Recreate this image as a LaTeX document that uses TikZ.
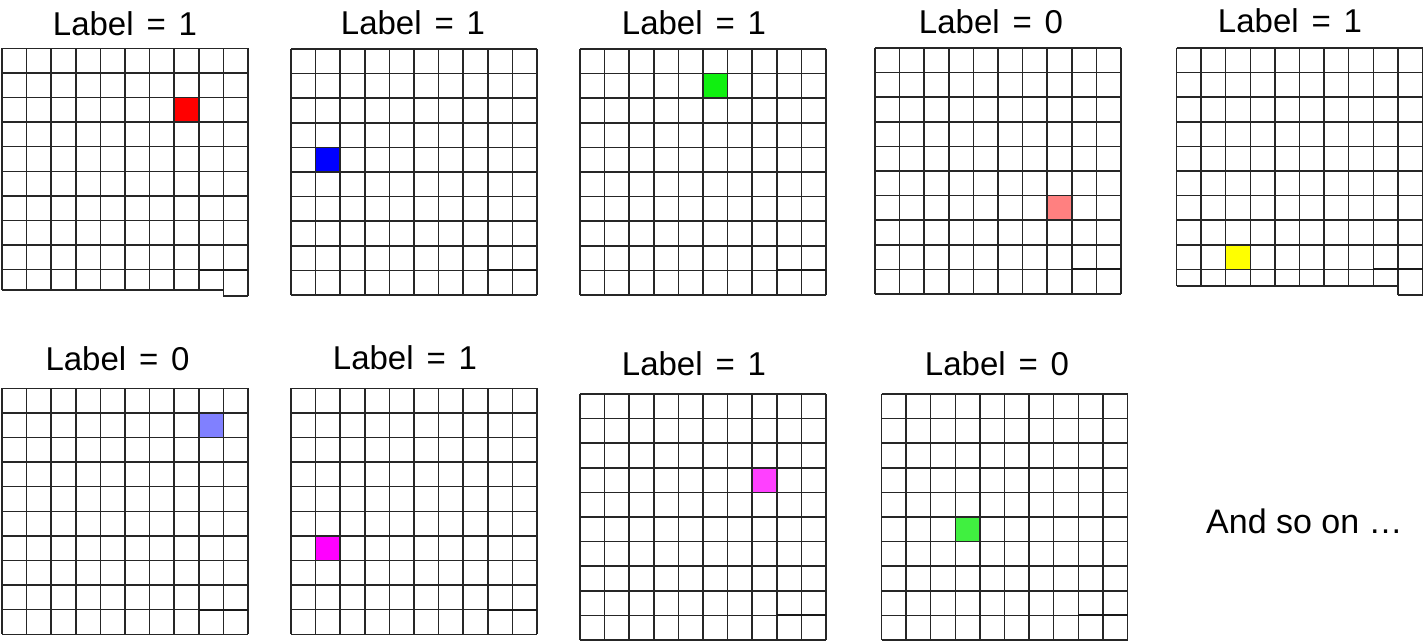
\documentclass[tikz,border=0pt]{standalone}
\usepackage{fontspec}
\setmainfont{Liberation Sans}
\definecolor{cRed}{HTML}{FF0000}
\definecolor{cBlue}{HTML}{0000FF}
\definecolor{cGreenA}{HTML}{10F010}
\definecolor{cSalmon}{HTML}{FF8080}
\definecolor{cYellow}{HTML}{FFFF00}
\definecolor{cLightBlue}{HTML}{8080FF}
\definecolor{cMagenta}{HTML}{FF00FF}
\definecolor{cPink}{HTML}{FF40FF}
\definecolor{cGreenB}{HTML}{40F040}
\newcommand{\cellsz}{24.6}
\newcommand{\lab}[1]{Label\hspace{0.39em}=\hspace{0.39em}#1}
\tikzset{
  gridline/.style={draw=black!85, line width=1.5pt},
  seam/.style={draw=black!90, line width=2.1pt},
  lbl/.style={font=\fontsize{33}{38}\selectfont, anchor=base, inner sep=0pt},
}
% #1 left, #2 top, #3 height of cols 1-9, #4 height of last cell column, #5 col, #6 row, #7 colour
\newcommand{\mygrid}[7]{%
  \begin{scope}[shift={(#1,#2)}]
    \fill[#7] (#5*\cellsz,#6*\cellsz) rectangle ++(\cellsz,\cellsz);
    \foreach \i in {0,...,8} \draw[gridline] (\i*\cellsz,0) -- (\i*\cellsz,#3);
    \foreach \i in {9,10} \draw[gridline] (\i*\cellsz,0) -- (\i*\cellsz,#4);
    \foreach \j in {0,...,9} \draw[gridline] (0,\j*\cellsz) -- (10*\cellsz,\j*\cellsz);
    \draw[gridline] (0,#3) -- (9*\cellsz,#3);
    \draw[gridline] (9*\cellsz,#4) -- (10*\cellsz,#4);
    \draw[seam] (8*\cellsz,9*\cellsz) -- (10*\cellsz,9*\cellsz);
  \end{scope}}
\begin{document}
\begin{tikzpicture}[x=1pt,y=-1pt]
\useasboundingbox (0,0) rectangle (1423,640);
\fill[white] (0,0) rectangle (1423,640);
% top row
\mygrid{2}{48.3}{241.7}{247.7}{7}{2}{cRed}
\mygrid{291}{49}{246}{246}{1}{4}{cBlue}
\mygrid{580}{49}{246}{246}{5}{1}{cGreenA}
\mygrid{875}{48}{246}{246}{7}{6}{cSalmon}
\mygrid{1176.5}{48}{238}{247}{2}{8}{cYellow}
% bottom row
\mygrid{2}{388.3}{246}{246}{8}{1}{cLightBlue}
\mygrid{291}{388.3}{246}{246}{1}{6}{cMagenta}
\mygrid{580}{394}{246}{246}{7}{3}{cPink}
\mygrid{881.5}{394}{246}{246}{3}{5}{cGreenB}
% labels
\node[lbl] (l1) at (125,35) {\lab{1}};
\node[lbl] (l2) at (413,34) {\lab{1}};
\node[lbl] (l3) at (694,34) {\lab{1}};
\node[lbl] (l4) at (991,33) {\lab{0}};
\node[lbl] (l5) at (1290,32) {\lab{1}};
\node[lbl] (l6) at (117.6,370.7) {\lab{0}};
\node[lbl] (l7) at (405,369) {\lab{1}};
\node[lbl] (l8) at (694,375) {\lab{1}};
\node[lbl] (l9) at (997,375) {\lab{0}};
\node[font=\fontsize{34}{40}\selectfont, anchor=base west, inner sep=0pt] (more) at (1206,533) {And so on …};
\end{tikzpicture}
\end{document}
